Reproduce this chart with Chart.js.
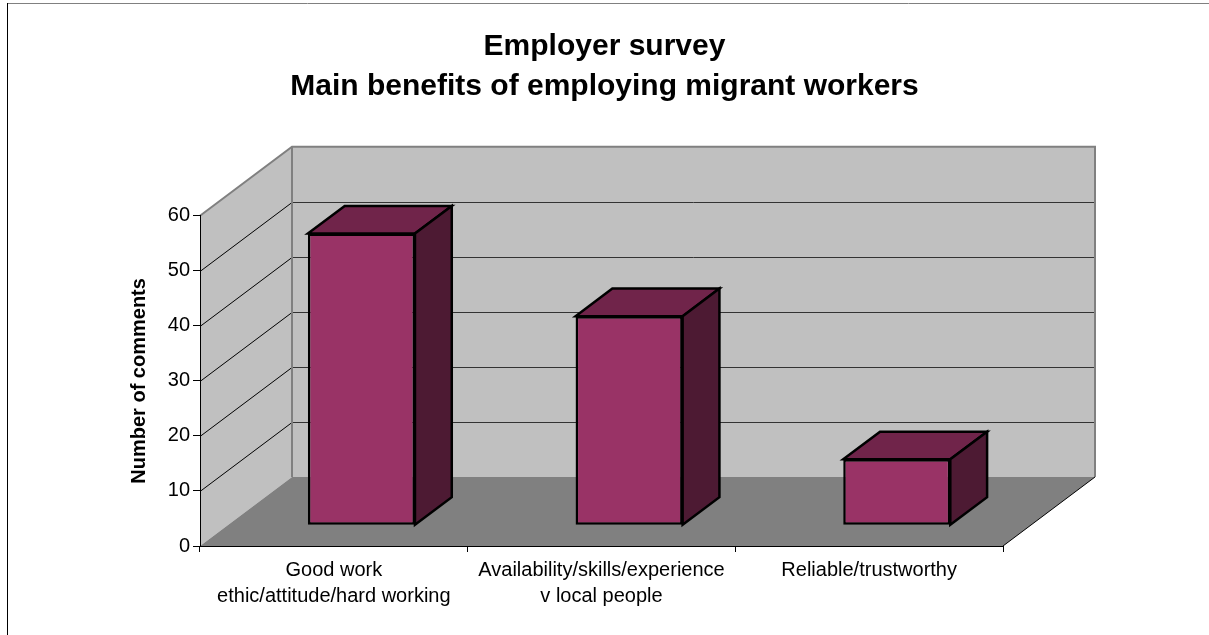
<!DOCTYPE html>
<html>
<head>
<meta charset="utf-8">
<title>Employer survey</title>
<script src="https://cdn.jsdelivr.net/npm/chart.js@4.4.1/dist/chart.umd.min.js"></script>
<style>
html, body { margin: 0; padding: 0; background: #fff; }
#wrap { position: relative; width: 1209px; height: 635px; }
</style>
</head>
<body>
<div id="wrap"><canvas id="chart"></canvas></div>
<script>
const categories = [
	['Good work', 'ethic/attitude/hard working'],
	['Availability/skills/experience', 'v local people'],
	['Reliable/trustworthy']
];
const comments = [53, 38, 12];
const yTicks = [0, 10, 20, 30, 40, 50, 60];

// depth of the 3D box in pixels, and where the bars sit in it (0 = front, 1 = back)
const DEPTH_X = 92;
const DEPTH_Y = 69;
const BAR_FRONT = 0.3;
const BAR_BACK = 0.7;

const FONT = "'Liberation Sans', Arial, sans-serif";
const FRONT_COLOR = '#993366';
const TOP_COLOR = '#70244a';
const SIDE_COLOR = '#4d1a33';
const OUTLINE = 2.5;

function poly(ctx, pts) {
	ctx.beginPath();
	ctx.moveTo(pts[0][0], pts[0][1]);
	for (let i = 1; i < pts.length; i++) ctx.lineTo(pts[i][0], pts[i][1]);
	ctx.closePath();
}

// walls, floor and the 3D bar faces
const box3d = {
	id: 'box3d',
	beforeDraw(chart) {
		const {ctx, chartArea: a, scales: {y}} = chart;
		const L = a.left, R = a.right, T = a.top, B = a.bottom;
		const bl = L + DEPTH_X, br = R + DEPTH_X, bt = T - DEPTH_Y, bb = B - DEPTH_Y;
		ctx.save();

		// outer frame
		ctx.lineWidth = 1;
		ctx.strokeStyle = '#808080';
		ctx.beginPath(); ctx.moveTo(7, 3.5); ctx.lineTo(chart.width, 3.5); ctx.stroke();
		ctx.strokeStyle = '#000';
		ctx.beginPath(); ctx.moveTo(7.5, 3); ctx.lineTo(7.5, chart.height); ctx.stroke();

		ctx.fillStyle = '#c0c0c0';
		poly(ctx, [[L, B], [L, T], [bl, bt], [bl, bb]]); ctx.fill();
		poly(ctx, [[bl, bt], [br, bt], [br, bb], [bl, bb]]); ctx.fill();
		ctx.fillStyle = '#808080';
		poly(ctx, [[L, B], [bl, bb], [br, bb], [R, B]]); ctx.fill();

		y.ticks.forEach(t => {
			if (t.value <= y.min || t.value >= y.max) return;
			const py = Math.round(y.getPixelForValue(t.value)) + 0.5;
			ctx.lineWidth = 1;
			ctx.strokeStyle = '#000';
			ctx.beginPath(); ctx.moveTo(L, py); ctx.lineTo(bl, py - DEPTH_Y); ctx.stroke();
			ctx.strokeStyle = '#333';
			ctx.beginPath(); ctx.moveTo(bl, py - DEPTH_Y); ctx.lineTo(br, py - DEPTH_Y); ctx.stroke();
		});

		ctx.strokeStyle = '#808080';
		ctx.lineWidth = 2;
		ctx.beginPath(); ctx.moveTo(L, T); ctx.lineTo(bl, bt); ctx.lineTo(br, bt); ctx.lineTo(br, bb); ctx.stroke();
		ctx.beginPath(); ctx.moveTo(bl, bt); ctx.lineTo(bl, bb); ctx.stroke();
		ctx.strokeStyle = '#000';
		ctx.lineWidth = 1;
		ctx.beginPath(); ctx.moveTo(br, bb); ctx.lineTo(R, B); ctx.stroke();
		ctx.restore();
	},
	beforeDatasetsDraw(chart) {
		// front faces are drawn by Chart.js, pushed back into the box
		chart.ctx.save();
		chart.ctx.translate(BAR_FRONT * DEPTH_X, -BAR_FRONT * DEPTH_Y);
	},
	afterDatasetsDraw(chart) {
		const ctx = chart.ctx;
		ctx.restore();
		const fx = BAR_FRONT * DEPTH_X, fy = BAR_FRONT * DEPTH_Y;
		const bx = BAR_BACK * DEPTH_X, by = BAR_BACK * DEPTH_Y;
		ctx.save();
		ctx.lineWidth = OUTLINE;
		ctx.strokeStyle = '#000';
		ctx.lineJoin = 'miter';
		chart.getDatasetMeta(0).data.forEach(bar => {
			const {x, y, base, width} = bar.getProps(['x', 'y', 'base', 'width'], true);
			const l = x - width / 2, r = x + width / 2;
			ctx.fillStyle = TOP_COLOR;
			poly(ctx, [[l + fx, y - fy], [l + bx, y - by], [r + bx, y - by], [r + fx, y - fy]]);
			ctx.fill(); ctx.stroke();
			ctx.fillStyle = SIDE_COLOR;
			poly(ctx, [[r + fx, y - fy], [r + bx, y - by], [r + bx, base - by], [r + fx, base - fy]]);
			ctx.fill(); ctx.stroke();
		});
		ctx.restore();
	}
};

const config = {
	type: 'bar',
	data: {
		labels: categories,
		datasets: [{
			label: 'Number of comments',
			data: comments,
			backgroundColor: FRONT_COLOR,
			borderColor: '#000',
			borderWidth: OUTLINE,
			borderSkipped: false,
			categoryPercentage: 1,
			barPercentage: 0.4,
			clip: false
		}]
	},
	options: {
		responsive: true,
		maintainAspectRatio: false,
		animation: false,
		events: [],
		layout: {
			padding: 0
		},
		plugins: {
			legend: {display: false},
			tooltip: {enabled: false},
			title: {
				display: true,
				text: ['Employer survey', 'Main benefits of employing migrant workers'],
				color: '#000',
				font: {family: FONT, size: 30, weight: 'bold', lineHeight: 1.33},
				padding: {top: 27, bottom: 109}
			}
		},
		scales: {
			x: {
				afterFit: s => { s.height = 89; },
				border: {display: true, color: '#000', width: 1},
				grid: {offset: true, drawOnChartArea: false, tickLength: 6, color: '#000'},
				ticks: {
					color: '#000',
					padding: 5,
					maxRotation: 0,
					autoSkip: false,
					font: {family: FONT, size: 20, lineHeight: 1.3}
				}
			},
			y: {
				min: 0,
				max: 60,
				afterBuildTicks: s => { s.ticks = yTicks.map(v => ({value: v})); },
				afterFit: s => { s.width = 200; },
				border: {display: true, color: '#000', width: 1},
				grid: {drawOnChartArea: false, tickLength: 7, color: '#000'},
				ticks: {color: '#000', padding: 3, font: {family: FONT, size: 20}},
				title: {
					display: true,
					text: 'Number of comments',
					color: '#000',
					font: {family: FONT, size: 20, weight: 'bold'},
					padding: {top: 127}
				}
			},
			// empty axis on the right that keeps room for the back wall
			depth: {
				type: 'linear',
				position: 'right',
				afterFit: s => { s.width = 206; },
				border: {display: false},
				grid: {display: false},
				ticks: {display: false}
			}
		}
	},
	plugins: [box3d]
};

new Chart(document.getElementById('chart'), config);
</script>
</body>
</html>
